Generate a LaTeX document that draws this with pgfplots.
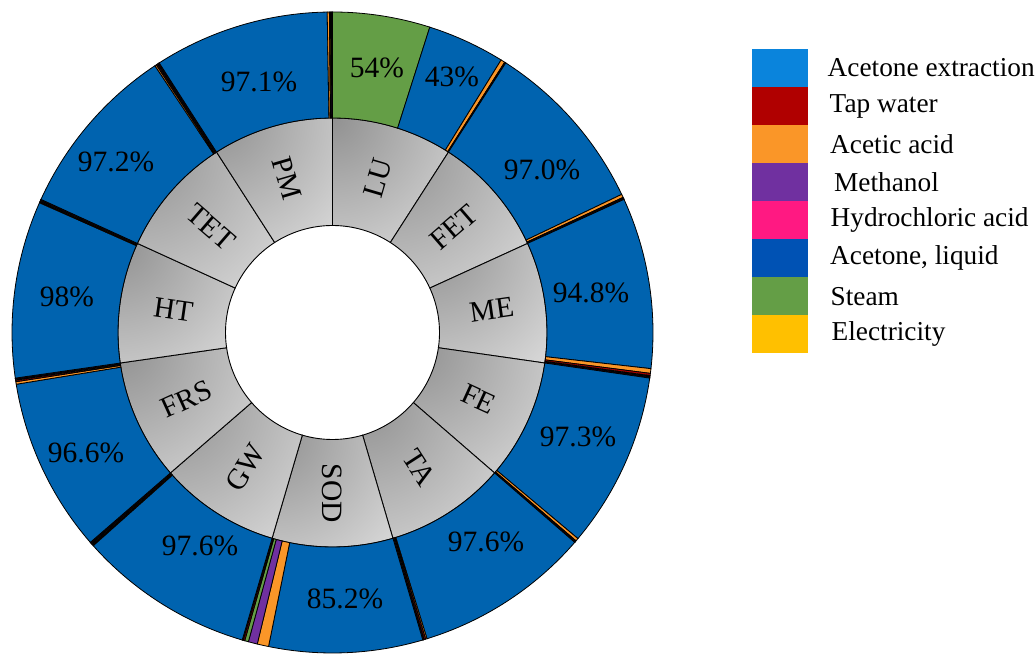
\documentclass[border=0pt]{standalone}
\usepackage{pgfplots}
\pgfplotsset{compat=1.18}
\usepackage{pgfplotstable}
\usepackage{fontspec}
\setmainfont{Liberation Serif}
\newfontfamily\tnr{Liberation Serif}

\definecolor{cExtr}{RGB}{10,132,220}
\definecolor{cTap}{RGB}{176,0,0}
\definecolor{cAcet}{RGB}{250,150,40}
\definecolor{cMeth}{RGB}{112,48,160}
\definecolor{cHCl}{RGB}{255,25,130}
\definecolor{cAcLiq}{RGB}{0,99,175}
\definecolor{cAcLiqLeg}{RGB}{0,82,180}
\definecolor{cSteam}{RGB}{100,158,70}
\definecolor{cElec}{RGB}{255,192,0}
\definecolor{gDark}{RGB}{145,145,145}
\definecolor{gLight}{RGB}{224,224,224}

% outer ring: share (%) of each process, in clockwise order, 11 groups of 100
\pgfplotstableread{
val col
54.0 cSteam
43.0 cAcLiq
2.3 cAcet
0.3 cTap
0.2 cElec
0.2 cMeth
97.0 cAcLiq
1.8 cAcet
0.5 cTap
0.3 cElec
0.2 cMeth
0.2 cHCl
94.8 cAcLiq
2.6 cAcet
1.2 cTap
0.6 cElec
0.5 cMeth
0.3 cHCl
97.3 cAcLiq
1.6 cAcet
0.5 cTap
0.3 cElec
0.2 cMeth
0.1 cHCl
97.6 cAcLiq
0.8 cAcet
0.8 cTap
0.5 cElec
0.2 cMeth
0.1 cHCl
85.2 cAcLiq
6.3 cAcet
5.0 cMeth
2.1 cSteam
0.8 cTap
0.4 cElec
0.2 cHCl
97.6 cAcLiq
0.6 cAcet
0.6 cTap
0.5 cElec
0.4 cMeth
0.3 cHCl
96.6 cAcLiq
1.4 cAcet
0.8 cTap
0.6 cElec
0.4 cMeth
0.2 cHCl
98.0 cAcLiq
0.6 cAcet
0.5 cTap
0.4 cElec
0.3 cMeth
0.2 cHCl
97.2 cAcLiq
0.9 cAcet
0.7 cTap
0.5 cElec
0.4 cMeth
0.3 cHCl
97.1 cAcLiq
1.2 cAcet
0.6 cTap
0.5 cElec
0.4 cMeth
0.2 cHCl
}\outerdata

% inner ring: category, gradient corner (relative to centre), gradient length
\pgfplotstableread{
name tlx tly diag
LU 0 214.5 170
FET 57.9 180.4 193
ME 97.3 89.1 167
FE 80.9 -15.2 182
TA 30.1 -70 189
SOD -60.4 -102.7 165
GW -162.2 -70 189
FRS -212.3 -15.2 182
HT -214.5 89.1 167
TET -195.1 180.4 193
PM -116 214.5 170
}\innerdata

% outer labels (position in picture pixels, from top)
\pgfplotstableread{
x y txt
377 68 54
452 77 43
542 170 97.0
591 293 94.8
578 437 97.3
486 542 97.6
345 599 85.2
200 546 97.6
86 453 96.6
67 297 98
116 162 97.2
259 82 97.1
}\labeldata

\def\cx{332.5}
\def\cy{321.5}
\def\Rin{107}
\def\Rmid{214.5}
\def\Rout{320.5}

\begin{document}
\begin{tikzpicture}
\begin{axis}[x=1pt,y=1pt,xmin=0,xmax=1035,ymin=0,ymax=654,
  hide axis,clip=false]
\pgfplotsextra{
  \coordinate (bbLL) at (axis cs:0,0);
  \coordinate (bbUR) at (axis cs:1035,654);
  % ---------- inner ring ----------
  \foreach \k in {0,...,10}{
    \pgfplotstablegetelem{\k}{name}\of\innerdata \let\nm=\pgfplotsretval
    \pgfplotstablegetelem{\k}{tlx}\of\innerdata \let\tlx=\pgfplotsretval
    \pgfplotstablegetelem{\k}{tly}\of\innerdata \let\tly=\pgfplotsretval
    \pgfplotstablegetelem{\k}{diag}\of\innerdata \let\dg=\pgfplotsretval
    \pgfmathsetmacro\aone{90-\k*32.7272727}
    \pgfmathsetmacro\atwo{90-(\k+1)*32.7272727}
    \pgfmathsetmacro\amid{90-(\k+0.5)*32.7272727}
    \pgfmathsetmacro\rr{1.1*\dg}
    \begin{scope}
      \clip (axis cs:{\cx+\Rin*cos(\aone)},{\cy+\Rin*sin(\aone)})
        arc[start angle=\aone,end angle=\atwo,radius=\Rin pt]
        -- (axis cs:{\cx+\Rmid*cos(\atwo)},{\cy+\Rmid*sin(\atwo)})
        arc[start angle=\atwo,end angle=\aone,radius=\Rmid pt] -- cycle;
      \fill[gLight] (axis cs:{\cx-\Rmid},{\cy-\Rmid}) rectangle (axis cs:{\cx+\Rmid},{\cy+\Rmid});
      \shade[inner color=gDark,outer color=gLight]
        (axis cs:{\cx+\tlx},{\cy+\tly}) circle[radius=\rr pt];
    \end{scope}
    \draw[line width=0.9pt] (axis cs:{\cx+\Rin*cos(\aone)},{\cy+\Rin*sin(\aone)})
        arc[start angle=\aone,end angle=\atwo,radius=\Rin pt]
        -- (axis cs:{\cx+\Rmid*cos(\atwo)},{\cy+\Rmid*sin(\atwo)})
        arc[start angle=\atwo,end angle=\aone,radius=\Rmid pt] -- cycle;
    \pgfmathsetmacro\rot{\amid>-90.01 ? \amid : \amid+180}
    \node[rotate=\rot,font=\tnr\fontsize{29.5}{34}\selectfont,inner sep=0pt]
      at (axis cs:{\cx+160.75*cos(\amid)},{\cy+160.75*sin(\amid)}) {\nm};
  }
  % ---------- outer ring ----------
  \xdef\cum{0}
  \pgfplotstablegetrowsof{\outerdata}
  \pgfmathtruncatemacro\nlast{\pgfplotsretval-1}
  \foreach \i in {0,...,\nlast}{
    \pgfplotstablegetelem{\i}{val}\of\outerdata \let\v=\pgfplotsretval
    \pgfplotstablegetelem{\i}{col}\of\outerdata \let\c=\pgfplotsretval
    \pgfmathsetmacro\aone{90-\cum*0.327272727}
    \pgfmathsetmacro\atwo{90-(\cum+\v)*0.327272727}
    \filldraw[fill=\c,draw=black,line width=0.8pt]
      (axis cs:{\cx+\Rmid*cos(\aone)},{\cy+\Rmid*sin(\aone)})
        arc[start angle=\aone,end angle=\atwo,radius=\Rmid pt]
        -- (axis cs:{\cx+\Rout*cos(\atwo)},{\cy+\Rout*sin(\atwo)})
        arc[start angle=\atwo,end angle=\aone,radius=\Rout pt] -- cycle;
    \pgfmathsetmacro\newcum{\cum+\v}
    \xdef\cum{\newcum}
  }
  % ---------- outer labels ----------
  \foreach \i in {0,...,11}{
    \pgfplotstablegetelem{\i}{x}\of\labeldata \let\lx=\pgfplotsretval
    \pgfplotstablegetelem{\i}{y}\of\labeldata \let\ly=\pgfplotsretval
    \pgfplotstablegetelem{\i}{txt}\of\labeldata \let\lt=\pgfplotsretval
    \node[font=\tnr\fontsize{29.5}{34}\selectfont,inner sep=0pt]
      at (axis cs:\lx,{654-\ly}) {\lt\%};
  }
  % ---------- legend ----------
  \foreach \j/\lc/\ltx/\tx in {0/cExtr/{Acetone extraction}/827.5,
      1/cTap/{Tap water}/829.5, 2/cAcet/{Acetic acid}/830,
      3/cMeth/{Methanol}/834, 4/cHCl/{Hydrochloric acid}/830.5,
      5/cAcLiqLeg/{Acetone, liquid}/830, 6/cSteam/{Steam}/830.5,
      7/cElec/{Electricity}/831.5}{
    \fill[\lc] (axis cs:752.3,{654-49-38.04*\j}) rectangle (axis cs:807.7,{654-49-38.04*(\j+1)});
    \node[anchor=west,inner sep=0pt,font=\tnr\fontsize{27.3}{32}\selectfont]
      at (axis cs:\tx,{654-68-38.04*\j}) {\ltx};
  }
}
\end{axis}
\pgfresetboundingbox
\useasboundingbox (bbLL) rectangle (bbUR);
\end{tikzpicture}
\end{document}
